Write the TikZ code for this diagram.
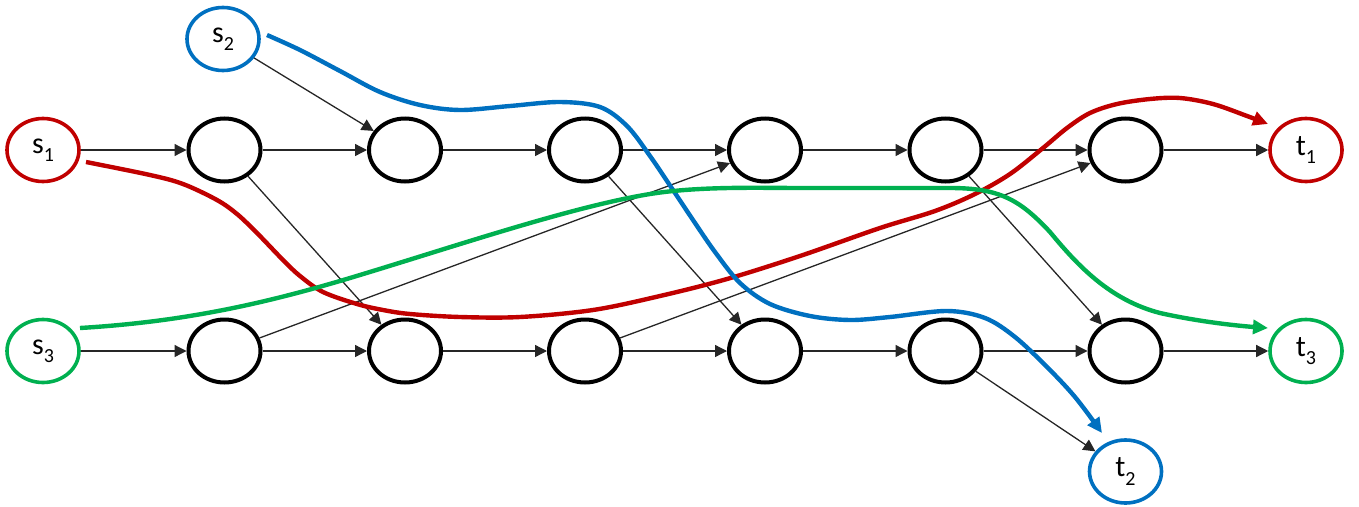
\documentclass[tikz,border=0pt]{standalone}
\usepackage{fontspec}
\setmainfont{Carlito}
\usetikzlibrary{shapes.geometric,arrows.meta}
\definecolor{cred}{HTML}{C00000}
\definecolor{cblue}{HTML}{0070C0}
\definecolor{cgreen}{HTML}{00B050}
\newcommand{\lbl}[2]{#1\raisebox{-0.28em}{\fontsize{20}{20}\selectfont #2}}
\begin{document}
\begin{tikzpicture}[x=1pt,y=-1pt,
  vnode/.style={ellipse,draw=black,line width=4pt,minimum width=72pt,minimum height=63pt,inner sep=0pt,
    font=\fontsize{30}{34}\selectfont},
  tnode/.style={vnode,draw=#1,line width=3.6pt},
  edge/.style={draw=black!85,line width=1.3pt,-{Triangle[length=12pt,width=12pt]}},
  route/.style={draw=#1,line width=4.4pt,-{Triangle[length=15pt,width=14pt]}}]
\useasboundingbox (0,0) rectangle (1359,506);
% nodes
\node[tnode=cred] (s1) at (43,150) {\lbl{s}{1}};
\node[tnode=cblue] (s2) at (223,39) {\lbl{s}{2}};
\node[tnode=cgreen] (s3) at (43,351) {\lbl{s}{3}};
\node[vnode] (a1) at (224.5,150) {};
\node[vnode] (a2) at (405,150) {};
\node[vnode] (a3) at (585,150) {};
\node[vnode] (a4) at (765,150) {};
\node[vnode] (a5) at (945.5,150) {};
\node[vnode] (a6) at (1125.5,150) {};
\node[vnode] (b1) at (224.5,351) {};
\node[vnode] (b2) at (405,351) {};
\node[vnode] (b3) at (585,351) {};
\node[vnode] (b4) at (765,351) {};
\node[vnode] (b5) at (945.5,351) {};
\node[vnode] (b6) at (1125.5,351) {};
\node[tnode=cred] (t1) at (1306,150) {\lbl{t}{1}};
\node[tnode=cgreen] (t3) at (1306,351) {\lbl{t}{3}};
\node[tnode=cblue] (t2) at (1125.5,471.5) {\lbl{t}{2}};
% thin edges
\foreach \u/\v in {s1/a1,a1/a2,a2/a3,a3/a4,a4/a5,a5/a6,a6/t1,
                   s3/b1,b1/b2,b2/b3,b3/b4,b4/b5,b5/b6,b6/t3,
                   s2/a2,a1/b2,a3/b4,a5/b6,b1/a4,b3/a6,b5/t2}
  \draw[edge] (\u) -- (\v);
% routes
\draw[route=cred] plot[smooth,tension=0.55] coordinates {
  (86,162) (150,175) (183,184) (217,200) (237,214) (257,233) (283,260) (300,276)
  (323,292) (357,304) (383,310) (410,314) (460,317) (520,317) (593,310) (660,296)
  (727,279) (800,256) (880,228) (935,211) (975,194) (1010,174) (1043,148) (1067,128)
  (1090,113) (1117,104) (1150,99) (1180,98) (1213,104) (1247,116) (1268,124)};
\draw[route=cblue] plot[smooth,tension=0.55] coordinates {
  (267,35) (300,50) (340,71) (380,92) (420,105) (460,110) (510,106) (560,102)
  (600,107) (627,126) (650,156) (673,190) (693,220) (715,252) (740,283) (770,304)
  (810,316) (850,320) (890,317) (947,311) (985,318) (1015,337) (1047,367)
  (1075,397) (1102,433)};
\draw[route=cgreen] (80,328) .. controls (180,322) and (260,305) .. (350,278)
  .. controls (450,248) and (570,207) .. (650,194)
  .. controls (700,186) and (760,188) .. (800,188)
  -- (950,188)
  .. controls (1000,188) and (1020,200) .. (1050,232)
  .. controls (1078,266) and (1110,300) .. (1160,313)
  .. controls (1200,322) and (1240,326) .. (1268,328);
\end{tikzpicture}
\end{document}
